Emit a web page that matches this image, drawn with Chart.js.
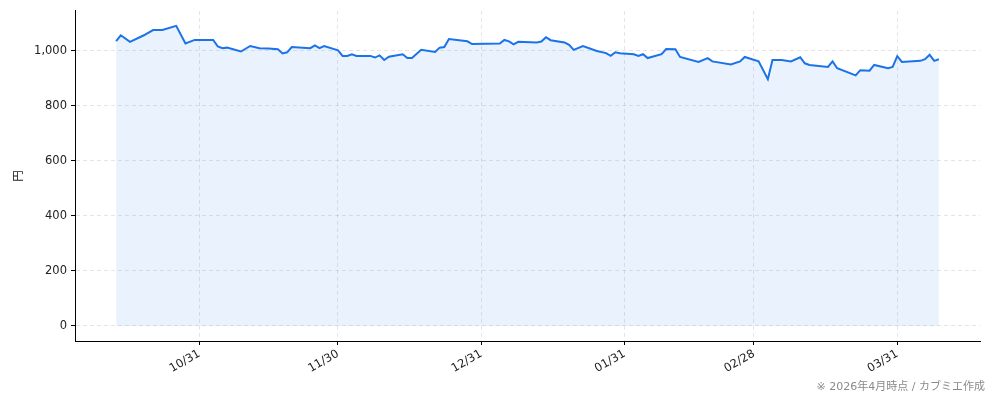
<!DOCTYPE html>
<html>
<head>
<meta charset="utf-8">
<script src="https://cdn.jsdelivr.net/npm/chart.js@4.4.1/dist/chart.umd.min.js"></script>
<style>
  html, body { margin: 0; padding: 0; background: #fff; }
  #wrap { position: relative; width: 994px; height: 401px; }
  #note {
    position: absolute; right: 9px; top: 377px;
    font: 11px "DejaVu Sans", "Noto Sans CJK JP", sans-serif; color: #8a8a8a;
  }
</style>
</head>
<body>
<div id="wrap">
  <canvas id="priceChart"></canvas>
  <div id="note">※ 2026年4月時点 / カブミエ作成</div>
</div>
<script>
// price data (dates are trading days, approx.)
const dates = [
  '2025-10-13', '2025-10-14', '2025-10-16', '2025-10-19', '2025-10-21', '2025-10-23',
  '2025-10-26', '2025-10-28', '2025-10-30', '2025-11-03', '2025-11-04', '2025-11-05',
  '2025-11-06', '2025-11-09', '2025-11-11', '2025-11-13', '2025-11-15', '2025-11-17',
  '2025-11-18', '2025-11-19', '2025-11-20', '2025-11-24', '2025-11-25', '2025-11-26',
  '2025-11-27', '2025-11-30', '2025-12-01', '2025-12-02', '2025-12-03', '2025-12-04',
  '2025-12-07', '2025-12-08', '2025-12-09', '2025-12-10', '2025-12-11', '2025-12-14',
  '2025-12-15', '2025-12-16', '2025-12-18', '2025-12-21', '2025-12-22', '2025-12-23',
  '2025-12-24', '2025-12-28', '2025-12-29', '2026-01-04', '2026-01-05', '2026-01-06',
  '2026-01-07', '2026-01-08', '2026-01-12', '2026-01-13', '2026-01-14', '2026-01-15',
  '2026-01-18', '2026-01-19', '2026-01-20', '2026-01-22', '2026-01-25', '2026-01-27',
  '2026-01-28', '2026-01-29', '2026-01-30', '2026-02-02', '2026-02-03', '2026-02-04',
  '2026-02-05', '2026-02-08', '2026-02-09', '2026-02-11', '2026-02-12', '2026-02-16',
  '2026-02-18', '2026-02-19', '2026-02-23', '2026-02-25', '2026-02-26', '2026-03-01',
  '2026-03-03', '2026-03-04', '2026-03-06', '2026-03-08', '2026-03-10', '2026-03-11',
  '2026-03-12', '2026-03-16', '2026-03-17', '2026-03-18', '2026-03-22', '2026-03-23',
  '2026-03-25', '2026-03-26', '2026-03-29', '2026-03-30', '2026-03-31', '2026-04-01',
  '2026-04-05', '2026-04-06', '2026-04-07', '2026-04-08', '2026-04-09'
];
const prices = [
  1036, 1057, 1033, 1057, 1076, 1076,
  1091, 1027, 1040, 1040, 1016, 1010,
  1012, 998, 1018, 1010, 1009, 1006,
  991, 995, 1014, 1010, 1020, 1010,
  1018, 1002, 982, 982, 988, 982,
  982, 976, 984, 967, 979, 988,
  974, 974, 1004, 996, 1012, 1014,
  1043, 1035, 1025, 1027, 1040, 1035,
  1024, 1033, 1031, 1034, 1050, 1039,
  1031, 1022, 1004, 1018, 1000, 992,
  982, 995, 992, 988, 982, 988,
  974, 988, 1007, 1006, 978, 960,
  974, 962, 951, 962, 978, 962,
  897, 967, 967, 962, 977, 955,
  949, 942, 962, 937, 911, 930,
  928, 949, 937, 942, 981, 960,
  964, 970, 986, 964, 970
];
const tickDates = ['2025-10-31', '2025-11-30', '2025-12-31', '2026-01-31', '2026-02-28', '2026-03-31'];
const tickLabels = ['10/31', '11/30', '12/31', '01/31', '02/28', '03/31'];
const yTicks = [0, 200, 400, 600, 800, 1000];

// turn a date string into a day number so a linear axis can place it
function dayNum(s) {
  const [y, m, d] = s.split('-').map(Number);
  return Date.UTC(y, m - 1, d) / 86400000;
}

const xs = dates.map(dayNum);
const points = xs.map((x, i) => ({ x: x, y: prices[i] }));

// matplotlib-like 5% margins around the data
const xSpan = xs[xs.length - 1] - xs[0];
const xMin = xs[0] - xSpan * 0.05;
const xMax = xs[xs.length - 1] + xSpan * 0.05;
const yTop = Math.max(...prices);
const yMin = -yTop * 0.05;
const yMax = yTop * 1.05;

const font = { family: '"DejaVu Sans", "Noto Sans CJK JP", sans-serif', size: 11.5 };
const gridStyle = {
  color: 'rgba(0, 0, 0, 0.1)',
  tickColor: '#000',
  tickBorderDash: [],
  tickLength: 4,
  drawTicks: true,
};
const borderStyle = { color: '#000', width: 1, dash: [4, 3] };

const ctx = document.getElementById('priceChart').getContext('2d');
new Chart(ctx, {
  type: 'line',
  data: {
    datasets: [{
      data: points,
      borderColor: '#1a73e8',
      borderWidth: 2,
      backgroundColor: 'rgba(26, 115, 232, 0.09)',
      fill: 'origin',
      tension: 0,
      pointRadius: 0,
    }],
  },
  options: {
    responsive: true,
    maintainAspectRatio: false,
    animation: false,
    layout: { padding: { top: 10, right: 14, left: 0, bottom: 0 } },
    plugins: {
      legend: { display: false },
      tooltip: { enabled: false },
    },
    scales: {
      x: {
        type: 'linear',
        min: xMin,
        max: xMax,
        grid: gridStyle,
        border: borderStyle,
        afterBuildTicks: (scale) => {
          scale.ticks = tickDates.map((d) => ({ value: dayNum(d) }));
        },
        afterFit: (scale) => { scale.height = 60; },
        ticks: {
          color: '#222',
          font: font,
          maxRotation: 30,
          minRotation: 30,
          padding: 2,
          callback: (value, index) => tickLabels[index],
        },
      },
      y: {
        min: yMin,
        max: yMax,
        grid: gridStyle,
        border: borderStyle,
        afterBuildTicks: (scale) => {
          scale.ticks = yTicks.map((v) => ({ value: v }));
        },
        afterFit: (scale) => { scale.width = 75; },
        title: {
          display: true,
          text: '円',
          color: '#222',
          font: font,
          padding: { top: 12, bottom: 0 },
        },
        ticks: {
          color: '#222',
          font: font,
          padding: 4,
          callback: (value) => value.toLocaleString('en-US'),
        },
      },
    },
  },
});
</script>
</body>
</html>
